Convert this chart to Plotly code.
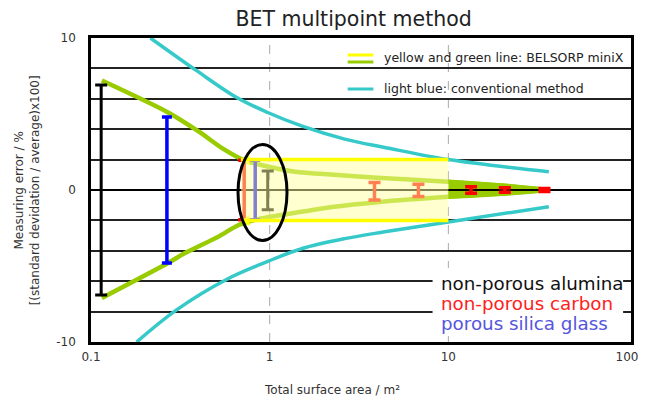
import math
import plotly.graph_objects as go

# ---------------- data ----------------
green_upper_x = [0.115, 0.27, 0.4, 0.55, 0.72, 0.87, 1.39, 2.3, 4, 10, 20, 37]
green_upper_y = [7.2, 5.1, 3.85, 2.7, 1.95, 1.68, 1.2, 1.0, 0.8, 0.55, 0.3, 0.0]
green_lower_x = [0.115, 0.27, 0.33, 0.52, 0.67, 0.87, 1.39, 2.3, 4, 10, 20, 37]
green_lower_y = [-7.1, -4.8, -4.2, -3.05, -2.3, -1.9, -1.5, -1.1, -0.8, -0.45, -0.25, 0.0]

cyan_upper_x = [0.215, 0.39, 0.65, 0.975, 1.52, 2.63, 4.4, 10, 36.5]
cyan_upper_y = [10, 7.85, 6.1, 5.1, 4.2, 3.35, 2.8, 2.0, 1.2]
cyan_lower_x = [0.18, 0.30, 0.57, 0.975, 1.52, 2.63, 4.4, 10, 36.5]
cyan_lower_y = [-10, -7.9, -5.9, -4.7, -3.85, -3.2, -2.75, -2.1, -1.1]

alumina_x = [0.114, 0.975]
alumina_plus = [6.9, 1.25]
alumina_minus = [6.9, 1.3]

silica_x = [0.266, 0.83]
silica_plus = [4.8, 1.95]
silica_minus = [4.8, 1.95]

carbon_x = [0.72, 3.86, 6.8, 13.4, 20.7, 34.5]
carbon_plus = [1.95, 0.5, 0.38, 0.22, 0.15, 0.1]
carbon_minus = [1.95, 0.65, 0.42, 0.22, 0.15, 0.1]

band_x = [0.69, 10]
band_y = [-2, 2]
arrow_x = [0.745, 0.745]
arrow_y = [2, -2]

ellipse_x = [0.665, 1.25]
ellipse_y = [-3.32, 2.99]

x_tickvals = [0.1, 1, 10, 100]
x_ticktext = ["0.1", "1", "10", "100"]
x_dashed = [1, 10]
y_tickvals = [-10, -8, -6, -4, -2, 0, 2, 4, 6, 8, 10]
y_ticktext = ["-10", "", "", "", "", "0", "", "", "", "", "10"]

sample_names = ["non-porous alumina", "non-porous carbon", "porous silica glass"]
sample_colors = ["#111111", "#ff2020", "#5555dd"]

GREEN = "#99cc00"
CYAN = "#36c9c9"
FONT = "DejaVu Sans"

# plot box in page pixels
W, H = 646, 401
SL, SR, ST, SB = 91, 638, 38, 342
DEC = 181.0                       # pixels per decade
x_range = [-1, -1 + (SR - SL) / DEC]
L, R, T, B = SL, W - SR, ST, H - SB


def px(xs):
    return (xs - SL) / (SR - SL)


def py(ys):
    return (SB - ys) / (SB - ST)


fig = go.Figure()

# green band fill for x >= 10
fx = [x for x in green_upper_x if x >= 10] + [x for x in green_lower_x if x >= 10][::-1]
fy = [y for x, y in zip(green_upper_x, green_upper_y) if x >= 10] + \
     [y for x, y in zip(green_lower_x, green_lower_y) if x >= 10][::-1]
fig.add_trace(go.Scatter(x=fx, y=fy, mode="lines", fill="toself", fillcolor=GREEN,
                         line=dict(color=GREEN, width=4), hoverinfo="skip"))

for xs, ys in [(green_upper_x, green_upper_y), (green_lower_x, green_lower_y)]:
    fig.add_trace(go.Scatter(x=xs, y=ys, mode="lines",
                             line=dict(color=GREEN, width=4.5, shape="spline", smoothing=0.8)))
for xs, ys in [(cyan_upper_x, cyan_upper_y), (cyan_lower_x, cyan_lower_y)]:
    fig.add_trace(go.Scatter(x=xs, y=ys, mode="lines",
                             line=dict(color=CYAN, width=3.5, shape="spline", smoothing=1.0)))

# zero line over green band
fig.add_trace(go.Scatter(x=[0.1, 10 ** x_range[1]], y=[0, 0], mode="lines",
                         line=dict(color="black", width=2), hoverinfo="skip"))


def ebar(xs, plus, minus, color, thick, width):
    fig.add_trace(go.Scatter(
        x=xs, y=[0] * len(xs), mode="markers", marker=dict(size=1, color="rgba(0,0,0,0)"),
        error_y=dict(type="data", symmetric=False, array=plus, arrayminus=minus,
                     color=color, thickness=thick, width=width)))


ebar(alumina_x, alumina_plus, alumina_minus, "black", 3, 6)
ebar(silica_x, silica_plus, silica_minus, "#0000ff", 3.5, 5)
ebar(carbon_x, carbon_plus, carbon_minus, "#ff0000", 3.5, 6)

fig.add_trace(go.Scatter(x=arrow_x, y=arrow_y, mode="markers",
                         marker=dict(symbol="triangle-left", size=10, color="#ffff00")))

shapes = [dict(type="line", xref="x", yref="paper", x0=v, x1=v, y0=0, y1=1,
               line=dict(color="#aaaaaa", width=1, dash="dash"), layer="below") for v in x_dashed]
shapes += [
    dict(type="rect", xref="x", yref="y", x0=band_x[0], x1=band_x[1], y0=band_y[0], y1=band_y[1],
         fillcolor="rgba(255,255,160,0.5)", line=dict(width=0), layer="above"),
    dict(type="line", xref="x", yref="y", x0=band_x[0], x1=band_x[1], y0=band_y[1], y1=band_y[1],
         line=dict(color="#ffff00", width=3.5), layer="above"),
    dict(type="line", xref="x", yref="y", x0=band_x[0], x1=band_x[1], y0=band_y[0], y1=band_y[0],
         line=dict(color="#ffff00", width=3.5), layer="above"),
    dict(type="circle", xref="x", yref="y", x0=ellipse_x[0], x1=ellipse_x[1],
         y0=ellipse_y[0], y1=ellipse_y[1], line=dict(color="black", width=3), layer="above"),
    # white box behind sample names
    dict(type="rect", xref="paper", yref="paper", x0=px(437), x1=px(630), y0=py(336), y1=py(268),
         fillcolor="white", line=dict(width=0), layer="above"),
    # legend samples
    dict(type="line", xref="paper", yref="paper", x0=px(351), x1=px(377), y0=py(55), y1=py(55),
         line=dict(color="#ffff00", width=3)),
    dict(type="line", xref="paper", yref="paper", x0=px(351), x1=px(377), y0=py(62), y1=py(62),
         line=dict(color=GREEN, width=3)),
    dict(type="line", xref="paper", yref="paper", x0=px(351), x1=px(377), y0=py(89), y1=py(89),
         line=dict(color=CYAN, width=3)),
]

annotations = [
    dict(xref="paper", yref="paper", x=px(386), y=py(58), xanchor="left", yanchor="middle",
         showarrow=False, text="yellow and green line: BELSORP miniX",
         font=dict(family=FONT, size=12.5, color="#222")),
    dict(xref="paper", yref="paper", x=px(386), y=py(88), xanchor="left", yanchor="middle",
         showarrow=False, text="light blue: conventional method",
         font=dict(family=FONT, size=12.5, color="#222")),
    dict(xref="paper", yref="paper", x=px(26.5), y=py(190), xanchor="center", yanchor="middle",
         showarrow=False, textangle=-90,
         text="Measuring error / %<br>[(standard devidation / average)x100]",
         font=dict(family=FONT, size=12, color="#333")),
    dict(xref="paper", yref="paper", x=px(335), y=py(390), xanchor="center", yanchor="middle",
         showarrow=False, text="Total surface area / m²",
         font=dict(family=FONT, size=12, color="#333")),
]
for i, (name, col) in enumerate(zip(sample_names, sample_colors)):
    annotations.append(dict(xref="paper", yref="paper", x=px(444), y=py(283 + 20 * i),
                            xanchor="left", yanchor="middle", showarrow=False, text=name,
                            font=dict(family=FONT, size=18.3, color=col)))

fig.update_layout(
    width=W, height=H,
    margin=dict(l=L, r=R, t=T, b=B),
    paper_bgcolor="white", plot_bgcolor="white",
    showlegend=False,
    shapes=shapes, annotations=annotations,
    title=dict(text="BET multipoint method", xref="paper", x=px(357), xanchor="center",
               y=1 - 19 / H, yanchor="middle",
               font=dict(family=FONT, size=20.5, color="#222")),
    font=dict(family=FONT),
)
fig.update_xaxes(type="log", range=x_range, tickvals=x_tickvals, ticktext=x_ticktext,
                 showgrid=False,
                 showline=True, linecolor="black", linewidth=2.5, mirror=True,
                 ticks="outside", ticklen=2, tickcolor="rgba(0,0,0,0)",
                 tickfont=dict(family=FONT, size=12, color="#333"),
                 zeroline=False)
fig.update_yaxes(range=[-10, 10], tickvals=y_tickvals, ticktext=y_ticktext,
                 showgrid=True, gridcolor="#222222", gridwidth=1.5,
                 zeroline=True, zerolinecolor="black", zerolinewidth=2,
                 showline=True, linecolor="black", linewidth=2.5, mirror=True,
                 ticks="outside", ticklen=10, tickcolor="rgba(0,0,0,0)",
                 tickfont=dict(family=FONT, size=12, color="#333"))

# remove the browser's default page margin so the figure sits at the window origin
fig.write_html("out.html", config={"displayModeBar": False},
               post_script="document.body.style.margin='0px';")
